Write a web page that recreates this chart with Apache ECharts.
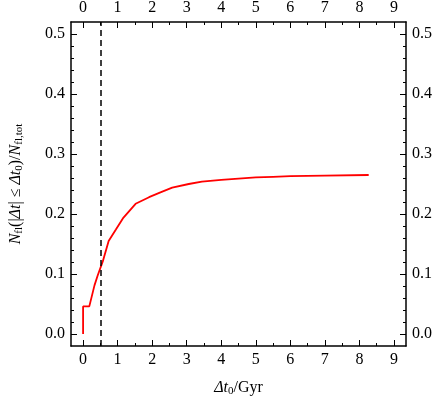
<!DOCTYPE html>
<html>
<head>
<meta charset="utf-8">
<script src="https://cdn.jsdelivr.net/npm/echarts@6/dist/echarts.min.js"></script>
<style>html,body{margin:0;padding:0;background:#fff}#chart{width:436px;height:402px}</style>
</head>
<body>
<div id="chart"></div>
<script>
var dtValues = [0, 0, 0.18, 0.33, 0.42, 0.57, 0.74, 0.95, 1.17, 1.52, 1.91, 2.24, 2.58, 3.06, 3.44, 4.0, 4.5, 5.0, 5.5, 6.0, 7.0, 8.27];
var fracValues = [0, 0.046, 0.046, 0.081, 0.097, 0.121, 0.155, 0.174, 0.194, 0.217, 0.228, 0.236, 0.244, 0.250, 0.254, 0.257, 0.259, 0.261, 0.262, 0.263, 0.264, 0.265];
var cutLine = 0.5;
var xTicks = [0, 1, 2, 3, 4, 5, 6, 7, 8, 9];
var xMinorTicks = [0.5, 1.5, 2.5, 3.5, 4.5, 5.5, 6.5, 7.5, 8.5];
var yTicks = [0, 0.1, 0.2, 0.3, 0.4, 0.5];
var yMinorTicks = [0.02, 0.04, 0.06, 0.08, 0.12, 0.14, 0.16, 0.18, 0.22, 0.24, 0.26, 0.28,
  0.32, 0.34, 0.36, 0.38, 0.42, 0.44, 0.46, 0.48];

var dom = document.getElementById('chart');
var myChart = echarts.init(dom, null, { renderer: 'canvas' });

var font = 'Liberation Serif';
var lbl = { color: '#000', fontFamily: font, fontSize: 16 };

function xAx(pos, minorAx, extra) {
  return Object.assign({
    type: 'value', min: -0.35, max: 9.35, position: pos,
    axisLine: { show: !minorAx, onZero: false, lineStyle: { color: '#000', width: 1.5 } },
    axisTick: { show: true, inside: true, length: minorAx ? 3 : 6, customValues: minorAx ? xMinorTicks : xTicks, lineStyle: { color: '#000', width: 1 } },
    axisLabel: minorAx ? { show: false } : Object.assign({ customValues: xTicks, margin: 6 }, lbl),
    splitLine: { show: false }
  }, extra || {});
}
function yAx(pos, minorAx, extra) {
  return Object.assign({
    type: 'value', min: -0.02, max: 0.52, position: pos,
    axisLine: { show: !minorAx, onZero: false, lineStyle: { color: '#000', width: 1.5 } },
    axisTick: { show: true, inside: true, length: minorAx ? 3 : 6, customValues: minorAx ? yMinorTicks : yTicks, lineStyle: { color: '#000', width: 1 } },
    axisLabel: minorAx ? { show: false } : Object.assign({ customValues: yTicks, margin: 6, formatter: function (v) { return v.toFixed(1); } }, lbl),
    splitLine: { show: false }
  }, extra || {});
}

var option = {
  backgroundColor: '#fff',
  animation: false,
  grid: { left: 68, right: 30, top: 21, bottom: 42 },
  xAxis: [
    xAx('bottom', false, {
      name: '{i|Δt}{s|0}{n|/Gyr}', nameLocation: 'middle', nameGap: 33,
      nameTextStyle: { rich: {
        i: { fontFamily: font, fontSize: 16, fontStyle: 'italic', color: '#000' },
        s: { fontFamily: font, fontSize: 11, color: '#000', padding: [7, 0, 0, 0] },
        n: { fontFamily: font, fontSize: 16, color: '#000' } } }
    }),
    xAx('top', false),
    xAx('bottom', true),
    xAx('top', true)
  ],
  yAxis: [
    yAx('left', false, {
      name: '{i|N}{s|fl}{n|(|}{i|Δt}{n|| ≤ }{i|Δt}{s|0}{n|)/}{i|N}{s|fl,tot}',
      nameLocation: 'middle', nameGap: 46, nameRotate: 90,
      nameTextStyle: { rich: {
        i: { fontFamily: font, fontSize: 16, fontStyle: 'italic', color: '#000' },
        s: { fontFamily: font, fontSize: 11, color: '#000', padding: [7, 0, 0, 0] },
        n: { fontFamily: font, fontSize: 16, color: '#000' } } }
    }),
    yAx('right', false),
    yAx('left', true),
    yAx('right', true)
  ],
  series: [
    {
      type: 'line', data: dtValues.map(function (x, i) { return [x, fracValues[i]]; }),
      showSymbol: false, lineStyle: { color: '#ff0000', width: 1.8 }, z: 3,
      markLine: {
        silent: true, symbol: 'none', label: { show: false },
        lineStyle: { color: '#000', type: [6, 4], width: 1.5 },
        data: [{ xAxis: cutLine }]
      }
    }
  ]
};

myChart.setOption(option);
window.addEventListener('resize', myChart.resize);
</script>
</body>
</html>
